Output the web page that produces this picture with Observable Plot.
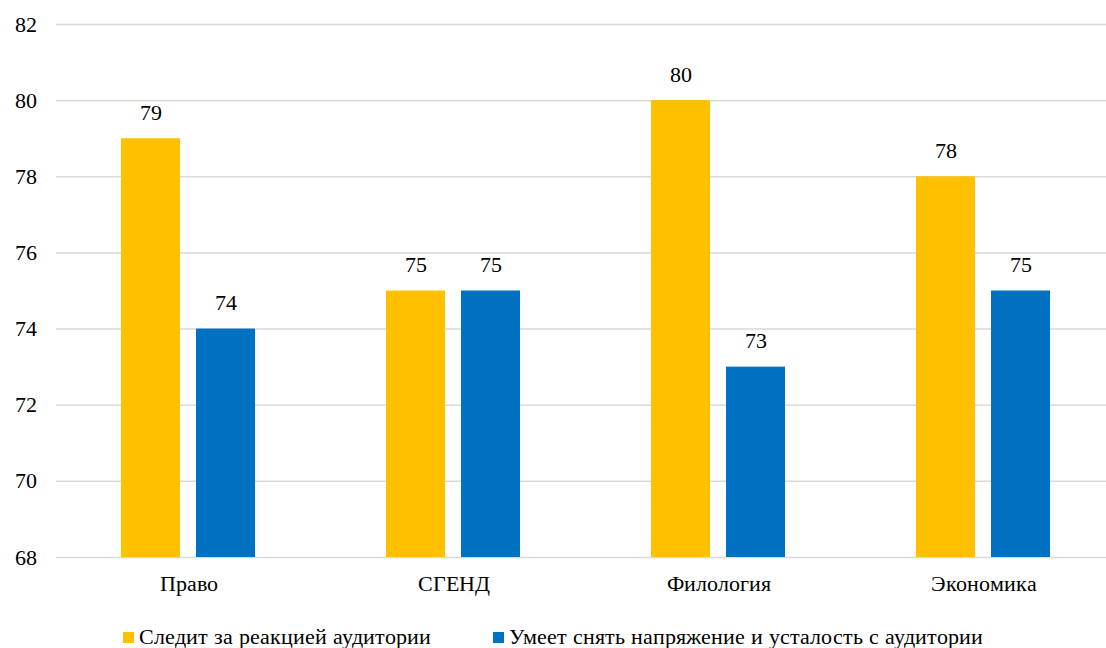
<!DOCTYPE html>
<html>
<head>
<meta charset="utf-8">
<style>
@font-face { font-family: "RefSerif"; src: local("Liberation Serif"), local("LiberationSerif"), local("Liberation Serif Regular"), local("LiberationSerif-Regular"), local("Tinos"), local("Times New Roman"); }
html, body { margin: 0; padding: 0; background: #fff; }
* { font-family: "RefSerif", "Liberation Serif", serif !important; }
svg text { font-family: "RefSerif", "Liberation Serif", serif !important; }
</style>
<script src="https://cdn.jsdelivr.net/npm/d3@7"></script>
<script src="https://cdn.jsdelivr.net/npm/@observablehq/plot@0.6"></script>
</head>
<body>
<div id="chart"></div>
<div id="legend" style="display:flex;justify-content:center;gap:62px;font-size:22px;line-height:24px;color:#000;margin-top:20px;"></div>
<script>
const categories = ["Право", "СГЕНД", "Филология", "Экономика"];
const seriesNames = ["Следит за реакцией аудитории", "Умеет снять напряжение и усталость с аудитории"];
const seriesA = [79, 75, 80, 78];
const seriesB = [74, 75, 73, 75];
const colors = ["#FFC000", "#0070C0"];
const yTicks = [68, 70, 72, 74, 76, 78, 80, 82];

const data = [];
categories.forEach((c, i) => {
  data.push({category: c, series: seriesNames[0], value: seriesA[i]});
  data.push({category: c, series: seriesNames[1], value: seriesB[i]});
});

const FONT = "RefSerif, 'Liberation Serif', serif";

const chart = Plot.plot({
  width: 1106,
  height: 605,
  marginTop: 24,
  marginBottom: 48,
  marginLeft: 55,
  marginRight: 0,
  style: {fontFamily: FONT, fontSize: "22px"},
  fx: {domain: categories, range: [55.5, 1115.5], padding: 0, label: null, tickSize: 0, tickPadding: 18},
  x: {domain: seriesNames, paddingInner: 0.2105, paddingOuter: 0.849, axis: null},
  y: {domain: [68, 82], ticks: yTicks, label: null, tickSize: 0, tickPadding: 20, grid: false},
  color: {domain: seriesNames, range: colors},
  marks: [
    Plot.ruleY(yTicks, {y: d => d, stroke: "#d9d9d9", strokeWidth: 1.5, strokeOpacity: 1, facet: "exclude"}),
    Plot.barY(data, {fx: "category", x: "series", y1: 68, y2: "value", fill: "series"}),
    Plot.text(data, {fx: "category", x: "series", y: "value", text: d => String(d.value), dy: -26, fill: "#000", fontSize: 22}),
    Plot.axisY({ticks: yTicks, tickSize: 0, tickPadding: 20, fontSize: 22, label: null})
  ]
});
document.getElementById("chart").appendChild(chart);

const legend = document.getElementById("legend");
seriesNames.forEach((n, i) => {
  const item = document.createElement("span");
  item.style.display = "flex";
  item.style.alignItems = "center";
  const sw = document.createElement("span");
  sw.style.display = "inline-block";
  sw.style.width = "11px";
  sw.style.height = "11px";
  sw.style.marginRight = "5px";
  sw.style.background = colors[i];
  item.appendChild(sw);
  item.appendChild(document.createTextNode(n));
  legend.appendChild(item);
});
</script>
</body>
</html>
